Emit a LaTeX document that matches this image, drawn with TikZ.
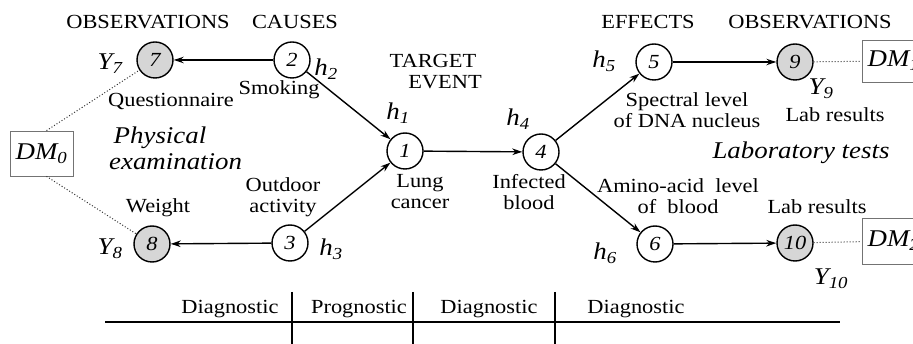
\documentclass[tikz,border=0pt]{standalone}
\usepackage{fontspec}
\setmainfont{Liberation Serif}[FakeStretch=1.12]
\usetikzlibrary{arrows.meta}
\begin{document}
\begin{tikzpicture}[x=1pt,y=-1pt,
  nd/.style={circle, draw, line width=1.4pt, minimum size=36pt, inner sep=0pt, font=\fontsize{20}{22}\selectfont\itshape},
  obs/.style={nd, fill=black!16},
  lbl/.style={font=\fontsize{20}{21}\selectfont, inner sep=0pt, align=center},
  ilbl/.style={font=\fontsize{24}{26}\selectfont\itshape, inner sep=0pt, align=center},
  arr/.style={line width=1.4pt, -{Stealth[length=10pt,width=6.5pt]}},
  dotln/.style={dotted, line width=1pt, black!80},
  dmbox/.style={draw=black!55, line width=0.8pt, minimum width=63pt, minimum height=45pt, inner sep=0pt, font=\fontsize{24}{26}\selectfont\itshape}
]
\useasboundingbox (0,0) rectangle (913,344);

% nodes
\node[obs] (n7) at (155,60) {7};
\node[nd] (n2) at (292,60) {2};
\node[nd] (n1) at (405,151) {1};
\node[nd] (n3) at (290,243) {3};
\node[obs] (n8) at (152,244) {8};
\node[nd] (n4) at (541,152) {4};
\node[nd] (n5) at (654,62) {5};
\node[obs] (n9) at (795,62) {9};
\node[nd] (n6) at (655,244) {6};
\node[obs] (n10) at (795,243) {10};

\node[dmbox] (dm0) at (41.5,153.5) {DM\textsubscript{0}};
\node[dmbox, minimum height=42pt] (dm1) at (893.5,61) {DM\textsubscript{1}};
\node[dmbox, minimum height=46pt] (dm2) at (893.5,241) {DM\textsubscript{2}};

% connectors
\draw[arr] (n2) -- (n7);
\draw[arr] (n3) -- (n8);
\draw[arr] (n2) -- (n1);
\draw[arr] (n3) -- (n1);
\draw[arr] (n1) -- (n4);
\draw[arr] (n4) -- (n5);
\draw[arr] (n4) -- (n6);
\draw[arr] (n5) -- (n9);
\draw[arr] (n6) -- (n10);
\draw[dotln] ([xshift=5pt]dm0.north) -- (n7);
\draw[dotln] ([xshift=5pt]dm0.south) -- (n8);
\draw[dotln] (n9) -- (dm1);
\draw[dotln] (n10) -- (dm2);

% headers
\node[lbl] (hObsL) at (148,22) {OBSERVATIONS};
\node[lbl] (hCause) at (295,22) {CAUSES};
\node[lbl] (hTarget) at (433,72) {TARGET\\\hspace*{1.2em}EVENT};
\node[lbl] (hEff) at (648,22) {EFFECTS};
\node[lbl] (hObsR) at (810,22) {OBSERVATIONS};

% h and Y labels
\node[ilbl] (tY7) at (110,64) {Y\textsubscript{7}};
\node[ilbl] (tY8) at (110,249) {Y\textsubscript{8}};
\node[ilbl] (tY9) at (821,89) {Y\textsubscript{9}};
\node[ilbl] (tY10) at (831,279) {Y\textsubscript{10}};
\node[ilbl] (th1) at (398,113) {h\textsubscript{1}};
\node[ilbl] (th2) at (326,69) {h\textsubscript{2}};
\node[ilbl] (th3) at (331,249) {h\textsubscript{3}};
\node[ilbl] (th4) at (518,119) {h\textsubscript{4}};
\node[ilbl] (th5) at (604,61) {h\textsubscript{5}};
\node[ilbl] (th6) at (605,253) {h\textsubscript{6}};

% text labels
\node[lbl] (tQ) at (171,102) {Questionnaire};
\node[lbl] (tSm) at (279,90) {Smoking};
\node[ilbl] (tPh) at (160,148) {Physical\\\hspace*{1.3em}examination};
\node[lbl] (tOut) at (283,197) {Outdoor\\activity};
\node[lbl] (tW) at (158,208) {Weight};
\node[lbl] (tLung) at (420,192) {Lung\\cancer};
\node[lbl] (tInf) at (529,192) {Infected\\blood};
\node[lbl] (tSp) at (687,110) {Spectral level\\of DNA nucleus};
\node[lbl] (tLab1) at (835,115) {Lab results};
\node[ilbl] (tLabT) at (801,153) {Laboratory tests};
\node[lbl] (tAm) at (678,196) {Amino-acid\ \ level\\of\ \ blood};
\node[lbl] (tLab2) at (817,207) {Lab results};

% bottom timeline
\coordinate (lineL) at (105,322);
\coordinate (lineR) at (840,322);
\draw[line width=1.3pt] (lineL) -- (lineR);
\coordinate (t1a) at (292,292); \coordinate (t1b) at (292,344);
\coordinate (t2a) at (413,292); \coordinate (t2b) at (413,344);
\coordinate (t3a) at (555,292); \coordinate (t3b) at (555,344);
\draw[line width=2.6pt] (t1a) -- (t1b);
\draw[line width=2.6pt] (t2a) -- (t2b);
\draw[line width=2.6pt] (t3a) -- (t3b);
\node[lbl] (d1) at (230,309) {Diagnostic};
\node[lbl] (p1) at (359,309) {Prognostic};
\node[lbl] (d2) at (489,309) {Diagnostic};
\node[lbl] (d3) at (636,309) {Diagnostic};
\end{tikzpicture}
\end{document}
